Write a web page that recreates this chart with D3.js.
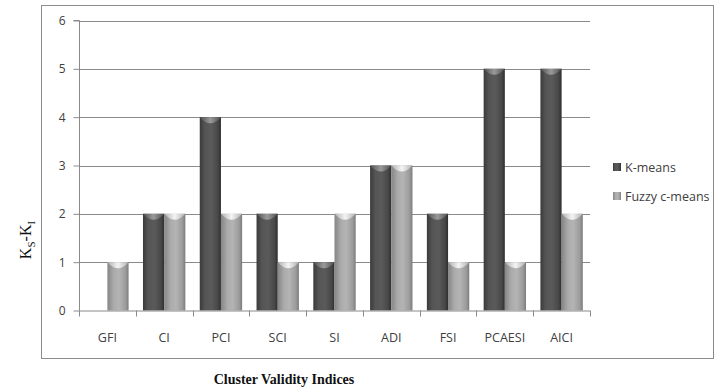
<!DOCTYPE html>
<html>
<head>
<meta charset="utf-8">
<script src="https://cdn.jsdelivr.net/npm/d3@7"></script>
<style>
  html, body { margin: 0; padding: 0; background: #fff; }
  svg { display: block; }
</style>
</head>
<body>
<svg id="chart" width="717" height="388"></svg>
<script>
// Cluster validity indices and the |Ks - Ki| value per clustering method
const categories = ["GFI", "CI", "PCI", "SCI", "SI", "ADI", "FSI", "PCAESI", "AICI"];
const seriesNames = ["K-means", "Fuzzy c-means"];
const kMeans = [0, 2, 4, 2, 1, 3, 2, 5, 5];
const fuzzyCMeans = [1, 2, 2, 1, 2, 3, 1, 1, 2];
const yTicks = [0, 1, 2, 3, 4, 5, 6];

const svg = d3.select("#chart");
const uiFont = "'Open Sans', 'DejaVu Sans', sans-serif";
const serif = "'Liberation Serif', 'DejaVu Serif', serif";

// outer chart frame
svg.append("rect")
  .attr("x", 41.5).attr("y", 5.5)
  .attr("width", 672).attr("height", 353)
  .attr("fill", "#fff").attr("stroke", "#8c8c8c").attr("stroke-width", 1);

const plot = { left: 79, right: 590, top: 20.5, bottom: 310.5 };

const x = d3.scaleBand().domain(categories).range([plot.left, plot.right]).paddingInner(0).paddingOuter(0);
const xs = d3.scaleBand().domain(seriesNames).range([0, x.bandwidth()]).paddingInner(0).paddingOuter(0.34);
const y = d3.scaleLinear().domain([0, 6]).range([plot.bottom, plot.top]);

// gradients giving the bars a rounded, cylinder-like look
const defs = svg.append("defs");
function hGrad(id, stops) {
  const g = defs.append("linearGradient").attr("id", id).attr("x1", "0").attr("x2", "1").attr("y1", "0").attr("y2", "0");
  stops.forEach(([o, c]) => g.append("stop").attr("offset", o).attr("stop-color", c));
}
hGrad("gK", [[0, "#3a3a3a"], [0.25, "#555"], [0.55, "#5a5a5a"], [0.85, "#484848"], [1, "#2e2e2e"]]);
hGrad("gF", [[0, "#858585"], [0.3, "#ababab"], [0.55, "#b4b4b4"], [0.85, "#9c9c9c"], [1, "#7c7c7c"]]);
hGrad("gKcap", [[0, "#505050"], [0.5, "#9a9a9a"], [1, "#505050"]]);
hGrad("gFcap", [[0, "#b0b0b0"], [0.5, "#f4f4f4"], [1, "#b0b0b0"]]);

// gridlines and y ticks
const grid = svg.append("g");
yTicks.forEach(t => {
  if (t === 0) return;
  grid.append("line")
    .attr("x1", plot.left).attr("x2", plot.right)
    .attr("y1", Math.round(y(t)) + 0.5).attr("y2", Math.round(y(t)) + 0.5)
    .attr("stroke", "#8a8a8a").attr("stroke-width", 1);
});

const yAxis = svg.append("g")
  .attr("transform", `translate(${plot.left + 0.5},0)`)
  .call(d3.axisLeft(y).tickValues(yTicks).tickFormat(d3.format("d")).tickSize(6).tickPadding(8));
yAxis.select(".domain").attr("stroke", "#8a8a8a").attr("d", `M-6,${plot.top}H0V${plot.bottom}`);
yAxis.selectAll(".tick line").attr("stroke", "#8a8a8a");
yAxis.selectAll(".tick text").attr("fill", "#404040").style("font-family", uiFont).style("font-size", "12px");

// bars
const data = categories.map((c, i) => ({ cat: c, vals: [kMeans[i], fuzzyCMeans[i]] }));
const barG = svg.append("g");
data.forEach(d => {
  d.vals.forEach((v, si) => {
    if (v <= 0) return;
    const bx = x(d.cat) + xs(seriesNames[si]);
    const bw = xs.bandwidth();
    const top = y(v);
    const h = y(0) - top;
    barG.append("rect")
      .attr("x", bx).attr("y", top).attr("width", bw).attr("height", h)
      .attr("fill", si === 0 ? "url(#gK)" : "url(#gF)");
    // curved highlight at the bar top
    const capH = 6;
    barG.append("path")
      .attr("d", `M${bx},${top}H${bx + bw}Q${bx + bw / 2},${top + capH * 2} ${bx},${top}Z`)
      .attr("fill", si === 0 ? "url(#gKcap)" : "url(#gFcap)");
  });
});

// category axis
const xAxis = svg.append("g").attr("transform", `translate(0,${plot.bottom})`);
xAxis.append("line")
  .attr("x1", plot.left).attr("x2", plot.right)
  .attr("y1", 0.5).attr("y2", 0.5)
  .attr("stroke", "#8a8a8a");
const bounds = categories.map(c => x(c)).concat([plot.right]);
bounds.forEach(b => {
  xAxis.append("line")
    .attr("x1", Math.round(b) + 0.5).attr("x2", Math.round(b) + 0.5)
    .attr("y1", 0).attr("y2", 6)
    .attr("stroke", "#8a8a8a");
});
categories.forEach(c => {
  xAxis.append("text")
    .attr("x", x(c) + x.bandwidth() / 2).attr("y", 31)
    .attr("text-anchor", "middle")
    .attr("fill", "#404040")
    .style("font-family", uiFont).style("font-size", "12.5px")
    .text(c);
});

// y axis title: Ks-Ki
const yTitle = svg.append("text")
  .attr("transform", "translate(31,240) rotate(-90)")
  .attr("text-anchor", "middle")
  .attr("fill", "#111")
  .style("font-family", serif).style("font-size", "16px");
yTitle.append("tspan").text("K");
yTitle.append("tspan").attr("dy", 4).style("font-size", "11px").text("S");
yTitle.append("tspan").attr("dy", -4).text("-K");
yTitle.append("tspan").attr("dy", 4).style("font-size", "11px").text("I");

// x axis title
svg.append("text")
  .attr("x", 284).attr("y", 384)
  .attr("text-anchor", "middle")
  .attr("fill", "#111")
  .style("font-family", serif).style("font-size", "14px").style("font-weight", "bold")
  .text("Cluster Validity Indices");

// legend
const legend = svg.append("g");
seriesNames.forEach((name, i) => {
  const ly = 167 + i * 29;
  legend.append("rect")
    .attr("x", 613).attr("y", ly - 4).attr("width", 8).attr("height", 8)
    .attr("fill", i === 0 ? "url(#gK)" : "url(#gF)");
  legend.append("text")
    .attr("x", 625).attr("y", ly + 4.5)
    .attr("fill", "#404040")
    .style("font-family", uiFont).style("font-size", "12.5px")
    .text(name);
});
</script>
</body>
</html>
